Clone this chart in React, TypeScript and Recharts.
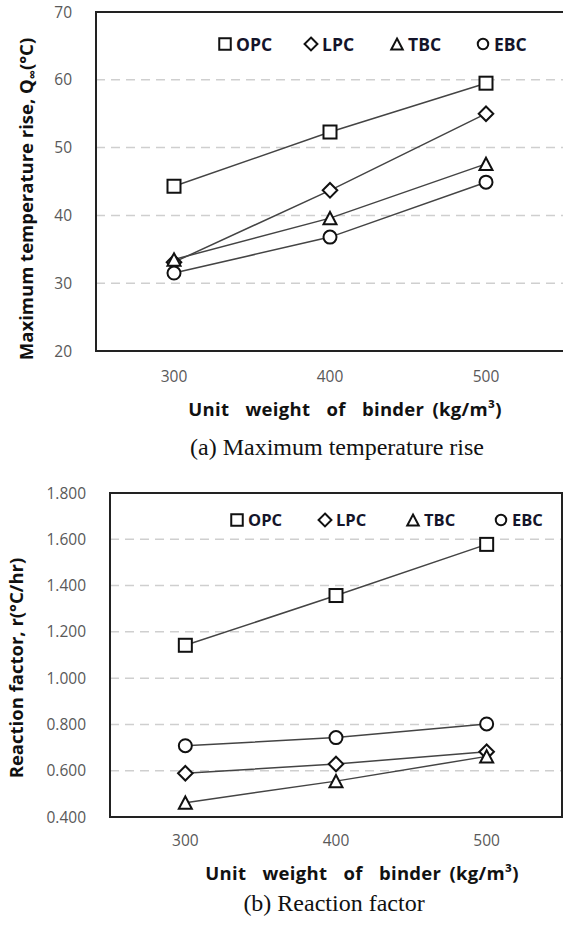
import { LineChart, Line, XAxis, YAxis, CartesianGrid, ReferenceArea, Legend } from 'recharts';

const binderWeights = [300, 400, 500];
const weightTicks = [300, 400, 500];

// maximum temperature rise Q∞ (°C)
const opcRise = [44.3, 52.3, 59.5];
const lpcRise = [33.1, 43.7, 55.0];
const tbcRise = [33.5, 39.6, 47.6];
const ebcRise = [31.5, 36.8, 44.9];
const riseTicks = [20, 30, 40, 50, 60, 70];

// reaction factor r (°C/hr)
const opcRate = [1.142, 1.357, 1.578];
const lpcRate = [0.589, 0.629, 0.682];
const tbcRate = [0.462, 0.555, 0.662];
const ebcRate = [0.708, 0.743, 0.802];
const rateTicks = [0.4, 0.6, 0.8, 1.0, 1.2, 1.4, 1.6, 1.8];

const seriesNames = ['OPC', 'LPC', 'TBC', 'EBC'];
const seriesShapes = ['square', 'diamond', 'triangle', 'circle'];

const FONT = '"Open Sans", "Noto Sans", sans-serif';
const INK = '#111';

type Shape = 'square' | 'diamond' | 'triangle' | 'circle';

function Marker({ shape, cx, cy, size }: { shape: Shape; cx: number; cy: number; size: number }) {
  const r = size / 2;
  const common = { fill: '#fff', stroke: INK, strokeWidth: 2 };
  if (shape === 'square') {
    return <rect x={cx - r} y={cy - r} width={size} height={size} {...common} />;
  }
  if (shape === 'diamond') {
    const d = r * 1.12;
    return <polygon points={`${cx},${cy - d} ${cx + d},${cy} ${cx},${cy + d} ${cx - d},${cy}`} {...common} />;
  }
  if (shape === 'triangle') {
    const h = r * 0.95;
    return <polygon points={`${cx},${cy - h} ${cx + r},${cy + h} ${cx - r},${cy + h}`} {...common} strokeLinejoin="miter" />;
  }
  return <circle cx={cx} cy={cy} r={r} {...common} />;
}

function LegendRow({ itemWidth, fontSize }: { itemWidth: number; fontSize: number }) {
  return (
    <div style={{ display: 'flex', fontFamily: FONT, fontWeight: 700, fontSize, color: '#14142a' }}>
      {seriesNames.map((name, i) => (
        <div key={name} style={{ width: itemWidth, display: 'flex', alignItems: 'center' }}>
          <svg width={16} height={16} style={{ marginRight: 3 }}>
            <Marker shape={seriesShapes[i] as Shape} cx={8} cy={8} size={i === 3 ? 10.5 : 11.5} />
          </svg>
          <span>{name}</span>
        </div>
      ))}
    </div>
  );
}

interface ChartProps {
  values: number[][];
  ticks: number[];
  format: (v: number) => string;
  width: number;
  height: number;
  marginTop: number;
  marginRight: number;
  yAxisWidth: number;
  xAxisHeight: number;
  xTickMargin: number;
  legendTop: number;
  legendLeft: number;
  legendItemWidth: number;
  legendFontSize: number;
}

function BinderChart(p: ChartProps) {
  const rows = binderWeights.map((w, i) => {
    const row: Record<string, number> = { w };
    seriesNames.forEach((name, s) => {
      row[name] = p.values[s][i];
    });
    return row;
  });
  const yMin = p.ticks[0];
  const yMax = p.ticks[p.ticks.length - 1];

  return (
    <LineChart
      width={p.width}
      height={p.height}
      data={rows}
      margin={{ top: p.marginTop, right: p.marginRight, left: 0, bottom: 0 }}
    >
      <CartesianGrid vertical={false} stroke="#cfcfcf" strokeWidth={1.5} strokeDasharray="9 6" />
      <XAxis
        type="number"
        dataKey="w"
        domain={[250, 550]}
        ticks={weightTicks}
        height={p.xAxisHeight}
        tickLine={false}
        axisLine={false}
        tickSize={0}
        tickMargin={p.xTickMargin}
        tick={{ fill: '#595959', fontSize: 15.5, fontFamily: FONT }}
      />
      <YAxis
        type="number"
        domain={[yMin, yMax]}
        ticks={p.ticks}
        width={p.yAxisWidth}
        tickLine={false}
        axisLine={false}
        tickSize={0}
        tickMargin={24}
        tickFormatter={p.format}
        tick={{ fill: '#595959', fontSize: 15.5, fontFamily: FONT }}
      />
      <ReferenceArea
        x1={250}
        x2={550}
        y1={yMin}
        y2={yMax}
        fill="none"
        stroke="#222"
        strokeWidth={2}
        ifOverflow="visible"
      />
      {seriesNames.map((name, s) => (
        <Line
          key={name}
          type="linear"
          dataKey={name}
          stroke="#444"
          strokeWidth={1.5}
          isAnimationActive={false}
          dot={(d: any) => (
            <Marker key={`${name}-${d.index}`} shape={seriesShapes[s] as Shape} cx={d.cx} cy={d.cy} size={13} />
          )}
          activeDot={false}
        />
      ))}
      <Legend
        layout="horizontal"
        verticalAlign="middle"
        align="center"
        wrapperStyle={{ top: p.legendTop, left: p.legendLeft, width: 360, height: 20 }}
        content={() => <LegendRow itemWidth={p.legendItemWidth} fontSize={p.legendFontSize} />}
      />
    </LineChart>
  );
}

const titleStyle = {
  position: 'absolute' as const,
  fontFamily: FONT,
  fontWeight: 700,
  fontSize: 18.5,
  color: INK,
  whiteSpace: 'pre' as const,
  transform: 'translate(-50%, -50%)',
};

const xTitleStyle = {
  ...titleStyle,
  letterSpacing: 0.3,
  wordSpacing: 3,
};

const yTitleStyle = {
  ...titleStyle,
  transform: 'translate(-50%, -50%) rotate(-90deg)',
};

const captionStyle = {
  position: 'absolute' as const,
  fontFamily: '"Liberation Serif", "Times New Roman", serif',
  fontSize: 24,
  color: INK,
  whiteSpace: 'nowrap' as const,
  transform: 'translate(-50%, -50%)',
};

export default function App() {
  return (
    <div
      style={{
        position: 'absolute',
        left: 0,
        top: 0,
        width: 563,
        height: 925,
        overflow: 'hidden',
        background: '#fff',
      }}
    >
      <div style={{ position: 'absolute', left: 0, top: 0 }}>
        <BinderChart
          values={[opcRise, lpcRise, tbcRise, ebcRise]}
          ticks={riseTicks}
          format={(v) => String(v)}
          width={566}
          height={400}
          marginTop={12}
          marginRight={2}
          yAxisWidth={96}
          xAxisHeight={49}
          xTickMargin={20}
          legendTop={32}
          legendLeft={217}
          legendItemWidth={86}
          legendFontSize={17.5}
        />
      </div>
      <div style={{ ...yTitleStyle, left: 27, top: 199 }}>
        Maximum temperature rise, Q
        <span style={{ fontSize: '0.7em', verticalAlign: 'sub' }}>∞</span>
        (°C)
      </div>
      <div style={{ ...xTitleStyle, left: 345, top: 408 }}>Unit  weight  of  binder (kg/m³)</div>
      <div style={{ ...captionStyle, left: 337, top: 447 }}>(a) Maximum temperature rise</div>

      <div style={{ position: 'absolute', left: 0, top: 470 }}>
        <BinderChart
          values={[opcRate, lpcRate, tbcRate, ebcRate]}
          ticks={rateTicks}
          format={(v) => v.toFixed(3)}
          width={563}
          height={400}
          marginTop={23}
          marginRight={1}
          yAxisWidth={110}
          xAxisHeight={53}
          xTickMargin={18}
          legendTop={38}
          legendLeft={229}
          legendItemWidth={88}
          legendFontSize={16.5}
        />
      </div>
      <div style={{ ...yTitleStyle, left: 15, top: 668 }}>Reaction factor, r(°C/hr)</div>
      <div style={{ ...xTitleStyle, left: 362, top: 872 }}>Unit  weight  of  binder (kg/m³)</div>
      <div style={{ ...captionStyle, left: 334, top: 903 }}>(b) Reaction factor</div>
    </div>
  );
}
